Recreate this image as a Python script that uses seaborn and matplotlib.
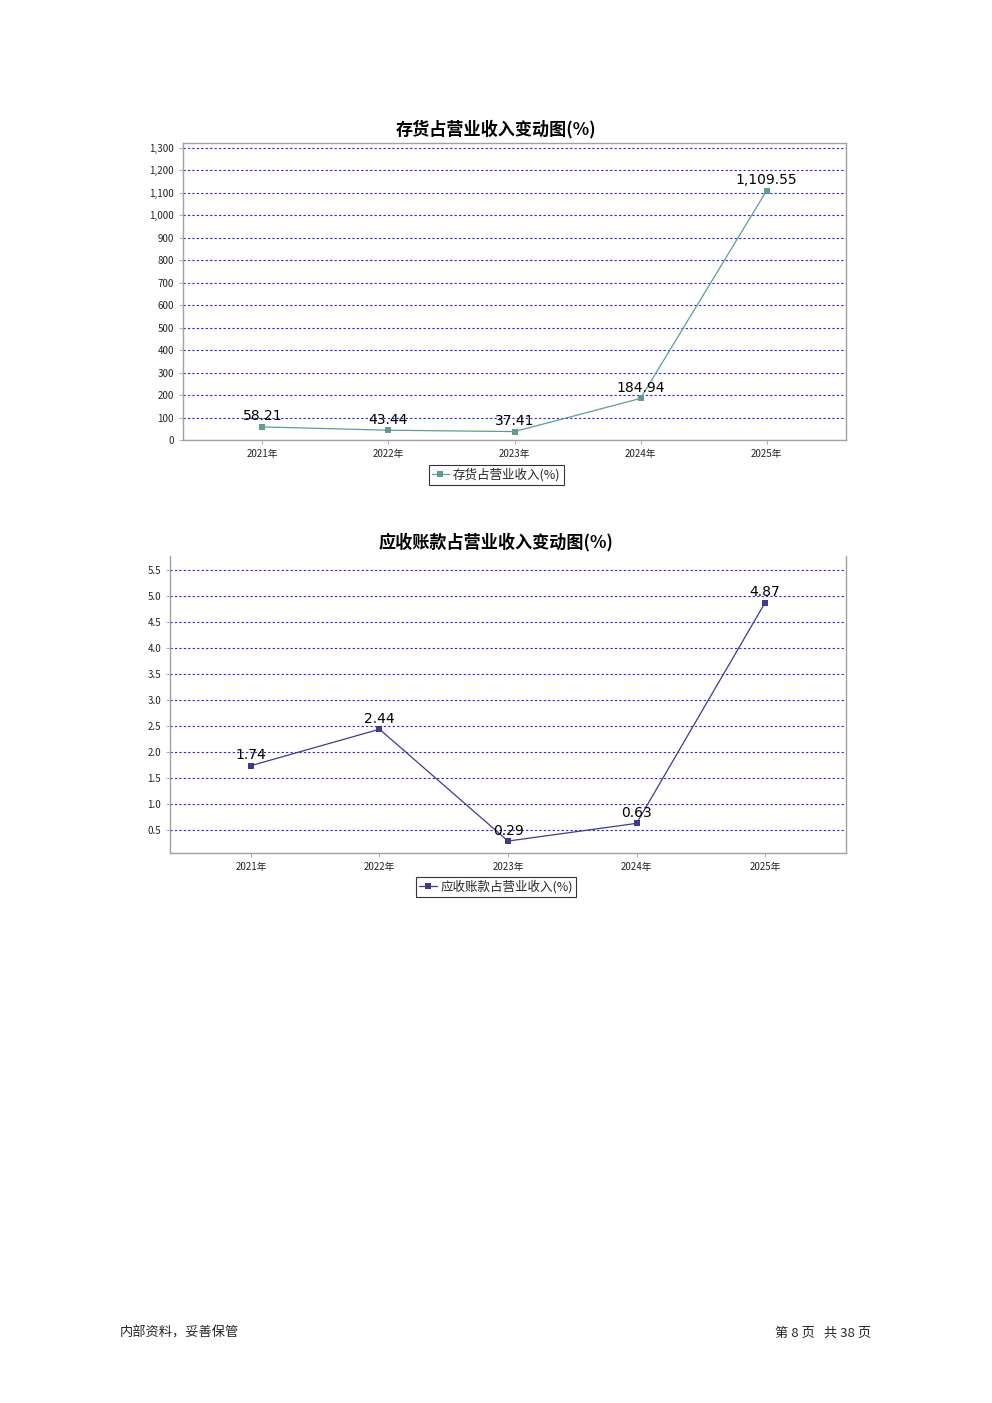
import matplotlib
matplotlib.use('Agg')
import matplotlib.pyplot as plt
import matplotlib.ticker as mticker
import seaborn as sns
import pandas as pd

# data
years = ['2021年', '2022年', '2023年', '2024年', '2025年']
inventory_ratio = [58.21, 43.44, 37.41, 184.94, 1109.55]
receivable_ratio = [1.74, 2.44, 0.29, 0.63, 4.87]
title1 = '存货占营业收入变动图(%)'
title2 = '应收账款占营业收入变动图(%)'
label1 = '存货占营业收入(%)'
label2 = '应收账款占营业收入(%)'

sns.set_theme(style='white')
plt.rcParams['font.family'] = ['Noto Sans CJK SC', 'DejaVu Sans']
plt.rcParams['axes.unicode_minus'] = False

fig = plt.figure(figsize=(9.92, 14.03), dpi=100)
H = 1403.0


def draw(ax, values, color, title, title_y, label, legend_y, yticks, ylim, fmt, top_spine):
    df = pd.DataFrame({'year': years, 'value': values})
    df['x'] = range(len(years))
    sns.lineplot(data=df, x='x', y='value', ax=ax, color=color, lw=0.9,
                 marker='s', markersize=5, markeredgewidth=0, label=label)
    for xi, v in zip(df['x'], df['value']):
        ax.annotate(f'{v:,.2f}', (xi, v), xytext=(0, 2.5), textcoords='offset points',
                    ha='center', va='bottom', fontsize=10, family='DejaVu Sans', color='black')
    ax.set_xlim(-0.63, len(years) - 0.37)
    ax.set_ylim(*ylim)
    ax.set_xticks(df['x'])
    ax.set_xticklabels(years)
    ax.set_yticks(yticks)
    ax.yaxis.set_major_formatter(mticker.FuncFormatter(fmt))
    ax.set_xlabel('')
    ax.set_ylabel('')
    ax.grid(axis='y', color='#2020ff', linestyle=(0, (2, 2)), lw=0.8)
    ax.set_axisbelow(True)
    for s in ['left', 'bottom', 'right', 'top']:
        ax.spines[s].set_color('#a0a0a0')
        ax.spines[s].set_linewidth(1.0)
    ax.spines['top'].set_visible(top_spine)
    ax.tick_params(axis='both', which='major', labelsize=7, length=3, width=0.6,
                   color='#a0a0a0', labelcolor='#222222', direction='out', left=True, bottom=True)
    fig.text(0.5, 1 - title_y / H, title, fontsize=12.3, fontweight='bold',
             ha='center', va='center', color='black')
    leg = ax.legend(loc='center', bbox_to_anchor=(0.5, 1 - legend_y / H),
                    bbox_transform=fig.transFigure, fontsize=9,
                    frameon=True, fancybox=False, edgecolor='black', borderpad=0.25,
                    handlelength=1.4, handletextpad=0.3, borderaxespad=0)
    leg.get_frame().set_linewidth(0.8)


ax1 = fig.add_axes([0.1845, 0.6864, 0.6683, 0.2117])
draw(ax1, inventory_ratio, '#5c9c95', title1, 129, label1, 475,
     list(range(0, 1301, 100)), (0, 1322), lambda v, p: f'{v:,.0f}', True)

ax2 = fig.add_axes([0.1714, 0.392, 0.6814, 0.2117])
draw(ax2, receivable_ratio, '#3f3b8c', title2, 542, label2, 887,
     [0.5, 1.0, 1.5, 2.0, 2.5, 3.0, 3.5, 4.0, 4.5, 5.0, 5.5], (0.06, 5.77),
     lambda v, p: f'{v:.1f}', False)

fig.text(120 / 992, 1 - 1333 / H, '内部资料，妥善保管', fontsize=9.5, ha='left', va='center')
fig.text(871 / 992, 1 - 1333 / H, '第 8 页   共 38 页', fontsize=9.5, ha='right', va='center')

fig.savefig('out.png', dpi=100)
